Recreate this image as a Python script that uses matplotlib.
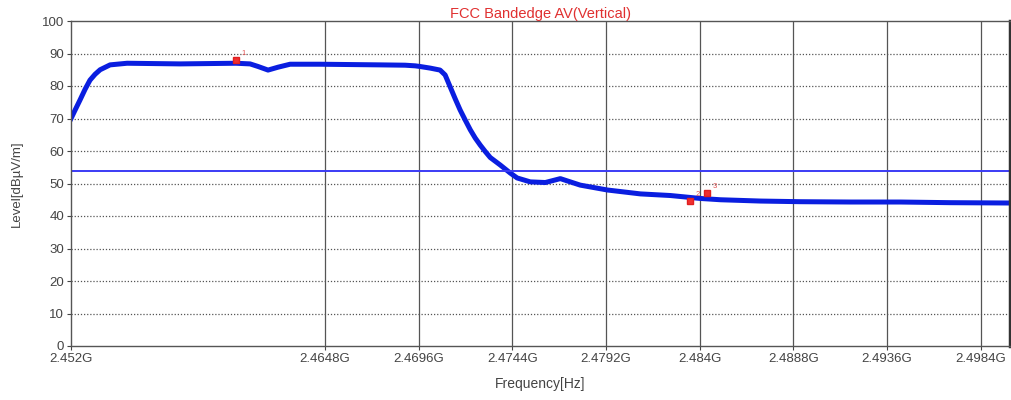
import matplotlib.pyplot as plt
import numpy as np

plt.rcParams['font.family'] = ['Liberation Sans', 'DejaVu Sans']

# trace (GHz, dBuV/m)
freq = [2.45180, 2.45200, 2.45226, 2.45252, 2.45277, 2.45303, 2.45329, 2.45380,
        2.45467, 2.45739, 2.46025, 2.46097, 2.46138, 2.46189, 2.46241, 2.46302,
        2.46456, 2.46763, 2.46891, 2.46943, 2.46968, 2.47020, 2.47070, 2.47096,
        2.47122, 2.47148, 2.47173, 2.47199, 2.47225, 2.47250, 2.47276, 2.47302,
        2.47327, 2.47378, 2.47430, 2.47465, 2.47532, 2.47609, 2.47686, 2.47737,
        2.47788, 2.47927, 2.48096, 2.48250, 2.48403, 2.48506, 2.48711, 2.48916,
        2.49172, 2.49428, 2.49684, 2.49981]
level = [70.0, 72.5, 75.7, 79.0, 81.8, 83.6, 85.0, 86.5,
         87.0, 86.8, 87.0, 86.8, 86.0, 84.9, 85.8, 86.7,
         86.7, 86.5, 86.4, 86.2, 86.0, 85.5, 84.9, 83.4,
         79.7, 76.0, 72.6, 69.5, 66.5, 64.0, 61.8, 59.8,
         58.0, 55.7, 53.2, 51.7, 50.5, 50.3, 51.5, 50.5,
         49.5, 48.0, 46.8, 46.3, 45.4, 45.0, 44.6, 44.4,
         44.3, 44.3, 44.1, 44.0]

limit = 54
mark_f = [2.46026, 2.48352, 2.48439]
mark_v = [88.0, 44.6, 47.0]
mark_lbl = ['1', '2', '3']

xticks = [2.4518, 2.4648, 2.4696, 2.4744, 2.4792, 2.484, 2.4888, 2.4936, 2.4984]
xtick_lbl = ['2.452G', '2.4648G', '2.4696G', '2.4744G', '2.4792G', '2.484G',
             '2.4888G', '2.4936G', '2.4984G']

fig = plt.figure(figsize=(10.12, 4.0), dpi=100)
ax = fig.add_axes([0.0702, 0.135, 0.928, 0.8125])

ax.plot(freq, level, color='#0a1ee0', lw=3.6, solid_joinstyle='round')
ax.axhline(limit, color='#3b3bf5', lw=1.4)

ax.plot(mark_f, mark_v, 's', color='#f03030', ms=5, mec='#e02020')
for f, v, t in zip(mark_f, mark_v, mark_lbl):
    ax.text(f + 0.00025, v + 1.5, t, color='#e05050', fontsize=5.5)

ax.set_xlim(2.4518, 2.4999)
ax.set_ylim(0, 100)
ax.set_xticks(xticks)
ax.set_xticklabels(xtick_lbl)
ax.set_yticks(np.arange(0, 101, 10))

# grid: dotted horizontal, solid vertical (not at left edge)
for y in range(10, 100, 10):
    ax.axhline(y, color='#555555', lw=0.9, ls=(0, (1, 1.5)), zorder=0)
for x in xticks[1:]:
    ax.axvline(x, color='#555555', lw=0.9, zorder=0)

ax.tick_params(direction='out', length=3, width=0.8, colors='#444444',
               labelsize=9.5, labelcolor='#444444', pad=2)
for s in ['left', 'bottom', 'top']:
    ax.spines[s].set_color('#555555')
    ax.spines[s].set_linewidth(1)
ax.spines['right'].set_color('#333333')
ax.spines['right'].set_linewidth(2.5)

ax.set_title('FCC Bandedge AV(Vertical)', color='#e03030', fontsize=10.5, pad=2)
ax.set_xlabel('Frequency[Hz]', fontsize=10, color='#444444', labelpad=9)
ax.set_ylabel('Level[dB\u00b5V/m]', fontsize=9.5, color='#444444', labelpad=14)

fig.savefig('out.png', dpi=100)
